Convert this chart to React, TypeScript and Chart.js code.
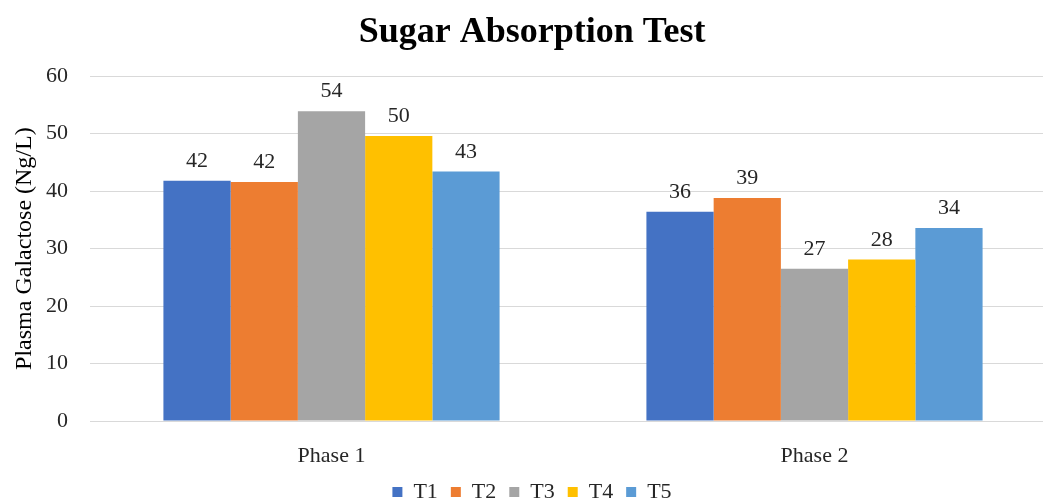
import React, { useEffect, useRef } from "react";
import { Chart, registerables } from "chart.js";

Chart.register(...registerables);

const categories = ["Phase 1", "Phase 2"];
const seriesNames = ["T1", "T2", "T3", "T4", "T5"];
const t1 = [41.8, 36.4];
const t2 = [41.6, 38.8];
const t3 = [53.9, 26.5];
const t4 = [49.6, 28.1];
const t5 = [43.4, 33.6];
const colors = ["#4472C4", "#ED7D31", "#A5A5A5", "#FFC000", "#5B9BD5"];
const yTicks = [0, 10, 20, 30, 40, 50, 60];

const FONT = "'Liberation Serif', 'Times New Roman', serif";

const labelPlugin = {
  id: "barLabels",
  afterDatasetsDraw(chart: any) {
    const ctx = chart.ctx;
    ctx.save();
    ctx.font = `22px ${FONT}`;
    ctx.fillStyle = "#262626";
    ctx.textAlign = "center";
    ctx.textBaseline = "alphabetic";
    chart.data.datasets.forEach((ds: any, i: number) => {
      const meta = chart.getDatasetMeta(i);
      meta.data.forEach((bar: any, j: number) => {
        ctx.fillText(String(Math.round(ds.data[j])), bar.x, bar.y - 14);
      });
    });
    ctx.restore();
  },
};

export default function App() {
  const ref = useRef<HTMLCanvasElement>(null);
  useEffect(() => {
    const data = [t1, t2, t3, t4, t5];
    const chart = new Chart(ref.current!, {
      type: "bar",
      data: {
        labels: categories,
        datasets: seriesNames.map((n, i) => ({
          label: n,
          data: data[i],
          backgroundColor: colors[i],
          categoryPercentage: 0.696,
          barPercentage: 1,
        })),
      },
      options: {
        animation: false,
        responsive: true,
        maintainAspectRatio: false,
        layout: { padding: { left: 8, right: 4, top: 0, bottom: -11 } },
        plugins: {
          title: {
            display: true,
            text: "Sugar Absorption Test",
            color: "#000000",
            font: { family: FONT, size: 36, weight: "bold" },
            padding: { top: 11, bottom: 22 },
          },
          legend: {
            position: "bottom",
            labels: {
              boxWidth: 10,
              boxHeight: 10,
              color: "#262626",
              font: { family: FONT, size: 22 },
              padding: 13,
            },
          },
          tooltip: { enabled: false },
        },
        scales: {
          x: {
            afterFit: (s: any) => {
              s.height = 47;
            },
            grid: { display: false },
            border: { display: false },
            ticks: { color: "#262626", font: { family: FONT, size: 22 }, padding: 14 },
          },
          y: {
            min: 0,
            max: 60,
            afterFit: (s: any) => {
              s.width = 82;
            },
            afterBuildTicks: (s: any) => {
              s.ticks = yTicks.map((v) => ({ value: v }));
            },
            grid: { color: "#D9D9D9", drawTicks: false },
            border: { display: false },
            ticks: { color: "#262626", font: { family: FONT, size: 22 }, padding: 22 },
            title: {
              display: true,
              text: "Plasma Galactose (Ng/L)",
              color: "#000000",
              font: { family: FONT, size: 24 },
              padding: 2,
            },
          },
        },
      },
      plugins: [labelPlugin],
    });
    return () => chart.destroy();
  }, []);
  return (
    <div style={{ position: "fixed", left: 0, top: 0, width: 1043, height: 502, overflow: "hidden", background: "#fff" }}>
      <div style={{ width: 1060, height: 502 }}>
        <canvas ref={ref} />
      </div>
    </div>
  );
}
